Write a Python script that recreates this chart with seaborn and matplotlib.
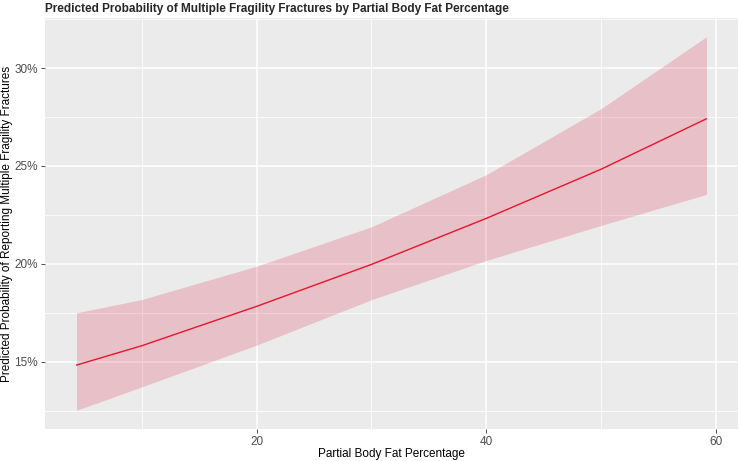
import numpy as np
import seaborn as sns
import matplotlib.pyplot as plt
from matplotlib.ticker import FuncFormatter, MultipleLocator

# values (probability as a fraction)
body_fat = [4.3, 10, 20, 30, 40, 50, 59.2]
predicted = [0.1483, 0.1582, 0.1783, 0.1997, 0.2232, 0.2483, 0.2741]
ci_lower = [0.1252, 0.1372, 0.1585, 0.1817, 0.2017, 0.2196, 0.2355]
ci_upper = [0.1750, 0.1818, 0.1988, 0.2189, 0.2455, 0.2792, 0.3160]

sns.set_theme(style="darkgrid", rc={
    "axes.facecolor": "#EBEBEB",
    "grid.color": "white",
    "xtick.major.size": 3,
    "ytick.major.size": 3,
    "xtick.major.width": 0.6,
    "ytick.major.width": 0.6,
    "xtick.color": "#333333",
    "ytick.color": "#333333",
    "xtick.bottom": True,
    "ytick.left": True,
})
plt.rcParams["font.family"] = ["Liberation Sans", "DejaVu Sans"]

fig = plt.figure(figsize=(7.4, 4.61), dpi=100)
ax = fig.add_axes([0.0608, 0.0694, 0.9365, 0.8915])

ax.fill_between(body_fat, ci_lower, ci_upper, color="crimson", alpha=0.2, linewidth=0)
sns.lineplot(x=body_fat, y=predicted, ax=ax, color="#E8142E", linewidth=1.0)

ax.xaxis.set_major_locator(MultipleLocator(20))
ax.xaxis.set_minor_locator(MultipleLocator(10))
ax.yaxis.set_major_locator(MultipleLocator(0.05))
ax.yaxis.set_minor_locator(MultipleLocator(0.025))
ax.yaxis.set_major_formatter(FuncFormatter(lambda v, p: f"{v * 100:.0f}%"))
ax.grid(which="major", color="white", linewidth=1.1)
ax.grid(which="minor", color="white", linewidth=0.55)
ax.tick_params(which="minor", length=0)
ax.tick_params(which="major", labelsize=8.5, labelcolor="#4D4D4D", pad=2)
for s in ax.spines.values():
    s.set_visible(False)

ax.set_xlabel("Partial Body Fat Percentage", fontsize=8.5, color="black", labelpad=0)
ax.set_ylabel("Predicted Probability of Reporting Multiple Fragility Fractures",
              fontsize=8.5, color="black", labelpad=1)
ax.set_title("Predicted Probability of Multiple Fragility Fractures by Partial Body Fat Percentage",
             loc="left", fontsize=8.5, fontweight="bold", pad=4)

fig.savefig("out.png", dpi=100)
